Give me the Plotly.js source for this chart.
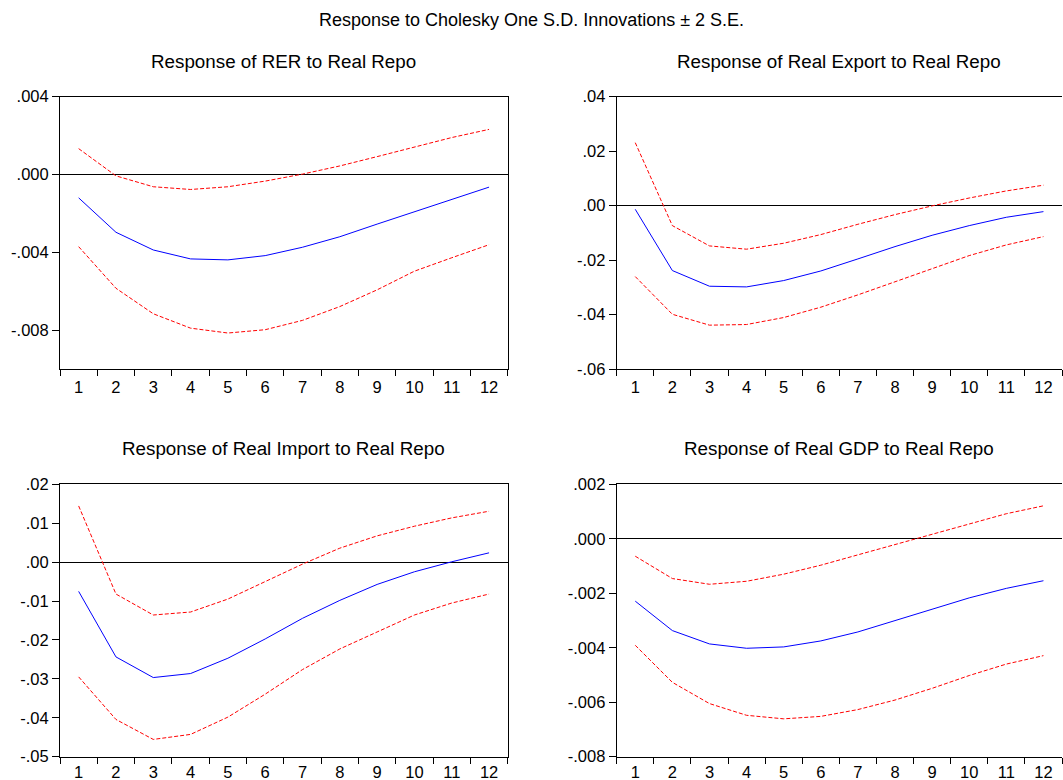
<!DOCTYPE html>
<html>
<head>
<meta charset="utf-8">
<script src="https://cdn.plot.ly/plotly-3.0.1.min.js"></script>
<style>
  html, body { margin: 0; padding: 0; background: #fff; }
  #chart { width: 1063px; height: 780px; }
</style>
</head>
<body>
<div id="chart"></div>
<script>
// Impulse-response horizons
const periods = [1, 2, 3, 4, 5, 6, 7, 8, 9, 10, 11, 12];
const periodLabels = ['1', '2', '3', '4', '5', '6', '7', '8', '9', '10', '11', '12'];

// Response of RER to Real Repo
const rerResp  = [-0.00120, -0.00297, -0.00388, -0.00434, -0.00439, -0.00417, -0.00374, -0.00320, -0.00255, -0.00191, -0.00126, -0.00065];
const rerUpper = [0.00133, -0.00007, -0.00063, -0.00077, -0.00063, -0.00034, 0.00002, 0.00044, 0.00092, 0.00142, 0.00190, 0.00232];
const rerLower = [-0.00371, -0.00585, -0.00716, -0.00790, -0.00815, -0.00798, -0.00750, -0.00679, -0.00593, -0.00497, -0.00428, -0.00361];

// Response of Real Export to Real Repo
const expResp  = [-0.00135, -0.02385, -0.02960, -0.02985, -0.02752, -0.02400, -0.01957, -0.01505, -0.01089, -0.00734, -0.00428, -0.00220];
const expUpper = [0.02312, -0.00734, -0.01480, -0.01600, -0.01382, -0.01064, -0.00685, -0.00330, -0.00010, 0.00280, 0.00540, 0.00750];
const expLower = [-0.02606, -0.03990, -0.04390, -0.04367, -0.04110, -0.03730, -0.03278, -0.02790, -0.02300, -0.01835, -0.01443, -0.01138];

// Response of Real Import to Real Repo
const impResp  = [-0.00752, -0.02436, -0.02966, -0.02863, -0.02470, -0.01974, -0.01444, -0.00983, -0.00573, -0.00248, 0.00009, 0.00239];
const impUpper = [0.01444, -0.00820, -0.01359, -0.01282, -0.00949, -0.00504, -0.00051, 0.00359, 0.00675, 0.00923, 0.01137, 0.01308];
const impLower = [-0.02949, -0.04043, -0.04556, -0.04427, -0.03983, -0.03393, -0.02761, -0.02231, -0.01795, -0.01359, -0.01051, -0.00820];

// Response of Real GDP to Real Repo
const gdpResp  = [-0.00229, -0.00337, -0.00386, -0.00402, -0.00397, -0.00375, -0.00342, -0.00301, -0.00258, -0.00217, -0.00182, -0.00154];
const gdpUpper = [-0.00064, -0.00146, -0.00167, -0.00156, -0.00130, -0.00097, -0.00059, -0.00021, 0.00018, 0.00056, 0.00092, 0.00121];
const gdpLower = [-0.00391, -0.00527, -0.00605, -0.00648, -0.00661, -0.00652, -0.00627, -0.00592, -0.00549, -0.00502, -0.00460, -0.00429];

// Y-axis ticks per panel
const rerTicks = [0.004, 0.000, -0.004, -0.008];
const rerTickText = ['.004', '.000', '-.004', '-.008'];
const expTicks = [0.04, 0.02, 0.00, -0.02, -0.04, -0.06];
const expTickText = ['.04', '.02', '.00', '-.02', '-.04', '-.06'];
const impTicks = [0.02, 0.01, 0.00, -0.01, -0.02, -0.03, -0.04, -0.05];
const impTickText = ['.02', '.01', '.00', '-.01', '-.02', '-.03', '-.04', '-.05'];
const gdpTicks = [0.002, 0.000, -0.002, -0.004, -0.006, -0.008];
const gdpTickText = ['.002', '.000', '-.002', '-.004', '-.006', '-.008'];

// Titles
const mainTitle = 'Response to Cholesky One S.D. Innovations \u00b1 2 S.E.';
const panelTitles = [
  'Response of RER to Real Repo',
  'Response of Real Export to Real Repo',
  'Response of Real Import to Real Repo',
  'Response of Real GDP to Real Repo'
];

const FONT = '"Liberation Sans", Arial, sans-serif';
const W = 1063, H = 780;
const TICK_SIZE = 16.5;

const colX = [[60 / W, 507.7 / W], [616.7 / W, 1062 / W]];
const rowY = [[1 - 369 / H, 1 - 96.7 / H], [1 - 756.7 / H, 1 - 484.3 / H]];

const panels = [
  { resp: rerResp, up: rerUpper, lo: rerLower, range: [-0.010, 0.004], tv: rerTicks, tt: rerTickText, col: 0, row: 0 },
  { resp: expResp, up: expUpper, lo: expLower, range: [-0.06, 0.04], tv: expTicks, tt: expTickText, col: 1, row: 0 },
  { resp: impResp, up: impUpper, lo: impLower, range: [-0.05, 0.02], tv: impTicks, tt: impTickText, col: 0, row: 1 },
  { resp: gdpResp, up: gdpUpper, lo: gdpLower, range: [-0.008, 0.002], tv: gdpTicks, tt: gdpTickText, col: 1, row: 1 }
];

const traces = [];
const layout = {
  width: W, height: H,
  margin: { l: 0, r: 0, t: 0, b: 0 },
  paper_bgcolor: '#ffffff',
  plot_bgcolor: '#ffffff',
  showlegend: false,
  font: { family: FONT, size: TICK_SIZE, color: '#000' },
  annotations: [
    { text: mainTitle, xref: 'paper', yref: 'paper', x: 531.5 / W, y: 1 - 20 / H,
      xanchor: 'center', yanchor: 'middle', showarrow: false, font: { family: FONT, size: 18, color: '#000' } }
  ]
};

panels.forEach((p, i) => {
  const n = i + 1;
  const xa = n === 1 ? 'x' : 'x' + n;
  const ya = n === 1 ? 'y' : 'y' + n;
  const xk = n === 1 ? 'xaxis' : 'xaxis' + n;
  const yk = n === 1 ? 'yaxis' : 'yaxis' + n;

  traces.push({ x: periods, y: p.up, xaxis: xa, yaxis: ya, type: 'scatter', mode: 'lines',
    line: { color: '#ff0000', width: 1, dash: '4px,2px' }, hoverinfo: 'skip' });
  traces.push({ x: periods, y: p.lo, xaxis: xa, yaxis: ya, type: 'scatter', mode: 'lines',
    line: { color: '#ff0000', width: 1, dash: '4px,2px' }, hoverinfo: 'skip' });
  traces.push({ x: periods, y: p.resp, xaxis: xa, yaxis: ya, type: 'scatter', mode: 'lines',
    line: { color: '#0000ff', width: 1 }, hoverinfo: 'skip' });

  layout[xk] = {
    domain: colX[p.col], anchor: ya,
    range: [0.5, 12.5], fixedrange: true,
    tickmode: 'array', tickvals: periods, ticktext: periodLabels,
    // invisible major ticks only set the label offset; boundary ticks come from minor
    ticks: 'outside', ticklen: p.row === 0 ? 3 : 0.5, tickcolor: 'rgba(0,0,0,0)',
    minor: { tickmode: 'linear', tick0: 0.5, dtick: 1, ticks: 'outside', ticklen: 6, tickcolor: '#000', tickwidth: 1, showgrid: false },
    showgrid: false, zeroline: false,
    showline: true, linecolor: '#000', linewidth: 1, mirror: true,
    tickfont: { family: FONT, size: TICK_SIZE, color: '#000' }
  };
  layout[yk] = {
    domain: rowY[p.row], anchor: xa,
    range: p.range, fixedrange: true,
    tickmode: 'array', tickvals: p.tv, ticktext: p.tt,
    ticks: 'outside', ticklen: 7, tickcolor: '#000', tickwidth: 1,
    showgrid: false,
    zeroline: true, zerolinecolor: '#000', zerolinewidth: 1,
    showline: true, linecolor: '#000', linewidth: 1, mirror: p.col === 0,
    tickfont: { family: FONT, size: TICK_SIZE, color: '#000' }
  };

  const cx = (colX[p.col][0] + colX[p.col][1]) / 2;
  const ty = p.row === 0 ? 1 - 62 / H : 1 - 449 / H;
  layout.annotations.push({
    text: panelTitles[i], xref: 'paper', yref: 'paper', x: cx, y: ty,
    xanchor: 'center', yanchor: 'middle', showarrow: false,
    font: { family: FONT, size: 18.8, color: '#000' }
  });
});

Plotly.newPlot('chart', traces, layout, { staticPlot: true, displayModeBar: false });
</script>
</body>
</html>
